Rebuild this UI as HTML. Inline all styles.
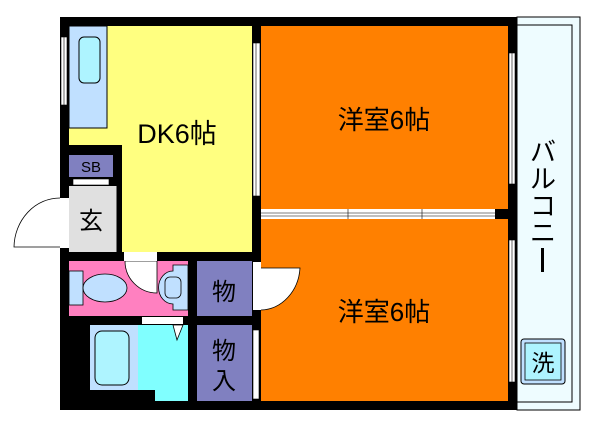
<!DOCTYPE html>
<html><head><meta charset="utf-8"><style>
body{margin:0;background:#fff;width:600px;height:428px;overflow:hidden}
svg{display:block}
text{font-family:"Liberation Sans","Noto Sans CJK JP",sans-serif;fill:#000}
</style></head><body>
<svg width="600" height="428" viewBox="0 0 600 428" xmlns="http://www.w3.org/2000/svg">
<rect x="517" y="17" width="63" height="393" fill="#eefcff" stroke="#000" stroke-width="1"/>
<rect x="517" y="25" width="55" height="377" fill="none" stroke="#000" stroke-width="1"/>
<rect x="60" y="17" width="457" height="393" fill="#000"/>
<rect x="261" y="26" width="247" height="183" fill="#ff8000"/>
<rect x="261" y="219" width="247" height="182" fill="#ff8000"/>
<rect x="69" y="26" width="183" height="226" fill="#ffff80"/>
<rect x="69" y="145" width="53" height="10" fill="#000"/>
<rect x="113" y="145" width="9" height="107" fill="#000"/>
<rect x="69" y="26" width="38" height="102" fill="#c0e0ff" stroke="#000" stroke-width="1"/>
<rect x="79" y="37" width="21" height="46" rx="5" fill="#aef4ff" stroke="#000"/>
<rect x="69" y="155" width="44" height="22" fill="#8080c0"/>
<rect x="69" y="177" width="44" height="9" fill="#000"/>
<rect x="73" y="179" width="36" height="6" fill="#fff" stroke="#000" stroke-width="0.6"/>
<rect x="69" y="186" width="48" height="66" fill="#e0e0e0"/>
<line x1="117" y1="186" x2="117" y2="252" stroke="#000"/>
<rect x="69" y="261" width="119" height="55" fill="#ff80c0"/>
<rect x="69" y="271" width="14" height="34" fill="#c0e0ff" stroke="#000" stroke-width="0.8"/>
<ellipse cx="105" cy="288" rx="22" ry="14" fill="#c0e0ff" stroke="#000" stroke-width="0.8"/>
<path d="M173 265 h15 v45 h-15 v-6 a14 16 0 0 1 0 -33z" fill="#c0e0ff" stroke="#000" stroke-width="0.8"/>
<rect x="165" y="277" width="16" height="21" rx="5" fill="#c0e0ff" stroke="#000" stroke-width="0.8"/>
<path d="M125 261 A32 32 0 0 0 157 293 L157 261Z" fill="#fff" stroke="#000" stroke-width="0.8"/>
<rect x="124" y="252" width="33" height="9" fill="#fff"/>
<rect x="197" y="261" width="55" height="55" fill="#8080c0"/>
<rect x="197" y="325" width="55" height="76" fill="#8080c0"/>
<rect x="90" y="325" width="48" height="65" fill="#c0e0ff"/>
<rect x="95" y="331" width="34" height="54" rx="7" fill="#aef4ff" stroke="#000"/>
<rect x="138" y="325" width="50" height="76" fill="#80ffff"/>
<rect x="138" y="390" width="17" height="11" fill="#000"/>
<rect x="142" y="317" width="41" height="7" fill="#fff"/>
<path d="M173 325 L183 325 L177 340Z" fill="#fff" stroke="#000" stroke-width="0.8"/>
<rect x="61" y="37" width="6" height="68" fill="#fff" stroke="#000" stroke-width="0.6"/>
<line x1="64" y1="37" x2="64" y2="105" stroke="#000" stroke-width="0.6"/>
<rect x="60" y="198" width="9" height="50" fill="#fff"/>
<path d="M60 198 A46 50 0 0 0 14 247 L60 247" fill="#fff" stroke="#000" stroke-width="0.8"/>
<rect x="253" y="43" width="7" height="153" fill="#fff" stroke="#000" stroke-width="0.6"/>
<line x1="256" y1="43" x2="256" y2="196" stroke="#000" stroke-width="0.6"/>
<rect x="253" y="262" width="8" height="48" fill="#fff"/>
<path d="M261 310 A40 45 0 0 0 300 268 L261 268" fill="#fff" stroke="#000" stroke-width="0.8"/>
<rect x="253" y="330" width="6" height="69" fill="#fff" stroke="#000" stroke-width="0.6"/>
<rect x="261" y="209" width="234" height="10" fill="#fff"/>
<line x1="261" y1="213" x2="495" y2="213" stroke="#000" stroke-width="0.6"/>
<line x1="261" y1="216" x2="495" y2="216" stroke="#000" stroke-width="0.6"/>
<line x1="348" y1="209" x2="348" y2="219" stroke="#000" stroke-width="0.6"/>
<line x1="422" y1="209" x2="422" y2="219" stroke="#000" stroke-width="0.6"/>
<rect x="509" y="53" width="6" height="131" fill="#fff" stroke="#000" stroke-width="0.6"/>
<line x1="512" y1="53" x2="512" y2="184" stroke="#000" stroke-width="0.6"/>
<rect x="509" y="240" width="6" height="142" fill="#fff" stroke="#000" stroke-width="0.6"/>
<line x1="512" y1="240" x2="512" y2="382" stroke="#000" stroke-width="0.6"/>
<rect x="521" y="339" width="44" height="45" rx="3" fill="#c0e0ff" stroke="#000"/>
<rect x="525" y="343" width="36" height="37" fill="#aef4ff" stroke="#000" stroke-width="0.8"/>
<text x="543" y="371" font-size="23" text-anchor="middle">洗</text>
<text x="177" y="143" font-size="27" text-anchor="middle">DK6帖</text>
<text x="91" y="172" font-size="15" text-anchor="middle">SB</text>
<text x="91" y="229" font-size="24" text-anchor="middle">玄</text>
<text x="224" y="300" font-size="24" text-anchor="middle">物</text>
<text x="224" y="359" font-size="24" text-anchor="middle">物</text>
<text x="224" y="389" font-size="24" text-anchor="middle">入</text>
<text x="384" y="129" font-size="26" text-anchor="middle">洋室6帖</text>
<text x="384" y="321" font-size="26" text-anchor="middle">洋室6帖</text>
<text x="543" y="161" font-size="26" text-anchor="middle">バ</text>
<text x="543" y="188" font-size="26" text-anchor="middle">ル</text>
<text x="543" y="215" font-size="26" text-anchor="middle">コ</text>
<text x="543" y="242" font-size="26" text-anchor="middle">ニ</text>
<rect x="541" y="248" width="3" height="24" fill="#000"/>
</svg>
</body></html>
